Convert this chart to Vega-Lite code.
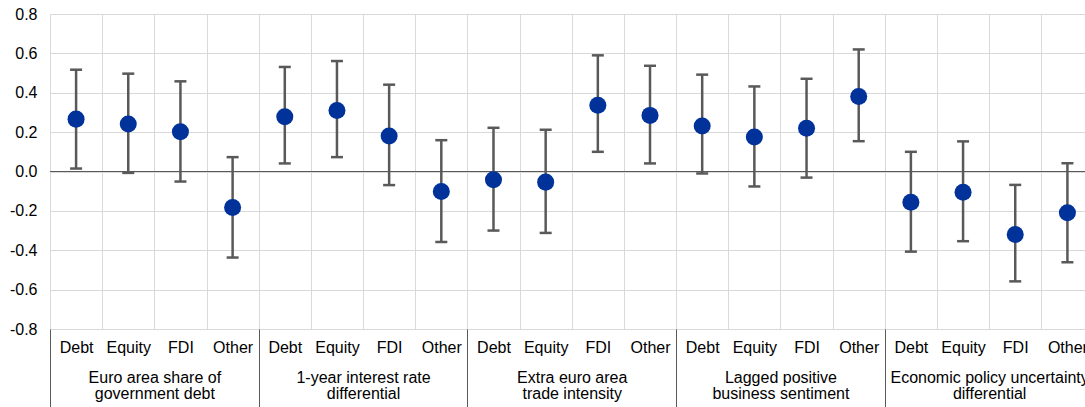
{
  "$schema": "https://vega.github.io/schema/vega-lite/v6.json",
  "width": 1035,
  "height": 315,
  "autosize": {"type": "none"},
  "padding": {"left": 50, "top": 14, "right": 0, "bottom": 78},
  "config": {
    "font": "Liberation Sans",
    "view": {"stroke": null},
    "axis": {"labelFont": "Liberation Sans", "labelFontSize": 16, "labelColor": "#000000"}
  },
  "data": {
    "values": [
      {"id": 1, "group": "Euro area share of government debt", "instrument": "Debt", "est": 0.266, "lo": 0.015, "hi": 0.517},
      {"id": 2, "group": "Euro area share of government debt", "instrument": "Equity", "est": 0.241, "lo": -0.007, "hi": 0.497},
      {"id": 3, "group": "Euro area share of government debt", "instrument": "FDI", "est": 0.202, "lo": -0.051, "hi": 0.458},
      {"id": 4, "group": "Euro area share of government debt", "instrument": "Other", "est": -0.183, "lo": -0.437, "hi": 0.073},
      {"id": 5, "group": "1-year interest rate differential", "instrument": "Debt", "est": 0.278, "lo": 0.041, "hi": 0.531},
      {"id": 6, "group": "1-year interest rate differential", "instrument": "Equity", "est": 0.31, "lo": 0.073, "hi": 0.561},
      {"id": 7, "group": "1-year interest rate differential", "instrument": "FDI", "est": 0.18, "lo": -0.069, "hi": 0.441},
      {"id": 8, "group": "1-year interest rate differential", "instrument": "Other", "est": -0.102, "lo": -0.358, "hi": 0.159},
      {"id": 9, "group": "Extra euro area trade intensity", "instrument": "Debt", "est": -0.042, "lo": -0.3, "hi": 0.222},
      {"id": 10, "group": "Extra euro area trade intensity", "instrument": "Equity", "est": -0.054, "lo": -0.312, "hi": 0.212},
      {"id": 11, "group": "Extra euro area trade intensity", "instrument": "FDI", "est": 0.337, "lo": 0.1, "hi": 0.59},
      {"id": 12, "group": "Extra euro area trade intensity", "instrument": "Other", "est": 0.285, "lo": 0.041, "hi": 0.537},
      {"id": 13, "group": "Lagged positive business sentiment", "instrument": "Debt", "est": 0.231, "lo": -0.01, "hi": 0.492},
      {"id": 14, "group": "Lagged positive business sentiment", "instrument": "Equity", "est": 0.175, "lo": -0.076, "hi": 0.432},
      {"id": 15, "group": "Lagged positive business sentiment", "instrument": "FDI", "est": 0.22, "lo": -0.031, "hi": 0.471},
      {"id": 16, "group": "Lagged positive business sentiment", "instrument": "Other", "est": 0.381, "lo": 0.154, "hi": 0.62},
      {"id": 17, "group": "Economic policy uncertainty differential", "instrument": "Debt", "est": -0.156, "lo": -0.407, "hi": 0.1},
      {"id": 18, "group": "Economic policy uncertainty differential", "instrument": "Equity", "est": -0.105, "lo": -0.354, "hi": 0.153},
      {"id": 19, "group": "Economic policy uncertainty differential", "instrument": "FDI", "est": -0.32, "lo": -0.558, "hi": -0.068},
      {"id": 20, "group": "Economic policy uncertainty differential", "instrument": "Other", "est": -0.21, "lo": -0.461, "hi": 0.042}
    ]
  },
  "layer": [
    {
      "mark": {"type": "point", "opacity": 0},
      "encoding": {
        "x": {
          "field": "group", "type": "nominal", "sort": null,
          "scale": {"range": [0, 1043.5], "paddingInner": 0, "paddingOuter": 0},
          "axis": {
            "orient": "bottom", "title": null, "grid": false, "domain": false,
            "ticks": true, "tickBand": "extent", "tickSize": 78, "tickColor": "#595959", "tickWidth": 1,
            "labelPadding": -38, "labelAngle": 0, "labelLineHeight": 16, "labelLimit": 0, "labelBaseline": "top",
            "labelExpr": "!isDefined(datum.value) ? '' : datum.value == 'Euro area share of government debt' ? ['Euro area share of', 'government debt'] : datum.value == '1-year interest rate differential' ? ['1-year interest rate', 'differential'] : datum.value == 'Extra euro area trade intensity' ? ['Extra euro area', 'trade intensity'] : datum.value == 'Lagged positive business sentiment' ? ['Lagged positive', 'business sentiment'] : datum.value == 'Economic policy uncertainty differential' ? ['Economic policy uncertainty', 'differential'] : ''"
          }
        },
        "y": {
          "field": "est", "type": "quantitative", "title": null,
          "scale": {"domain": [-0.8, 0.8], "nice": false, "zero": false},
          "axis": {
            "values": [-0.8, -0.6, -0.4, -0.2, 0, 0.2, 0.4, 0.6, 0.8],
            "labelExpr": "replace(format(datum.value, '.1f'), '\u2212', '-')",
            "labelOverlap": false,
            "grid": true, "gridColor": "#d9d9d9", "gridWidth": 1,
            "domain": false, "ticks": false, "labelPadding": 13, "title": null
          }
        }
      }
    },
    {
      "encoding": {
        "x": {
          "field": "id", "type": "ordinal",
          "scale": {"range": [0, 1043.5], "paddingInner": 0, "paddingOuter": 0},
          "axis": {
            "orient": "bottom", "title": null, "grid": true, "gridColor": "#d9d9d9", "gridWidth": 1,
            "tickBand": "extent", "ticks": false, "domain": false, "labelPadding": 10, "labelAngle": 0,
            "labelExpr": "!isDefined(datum.value) ? '' : ['Debt','Equity','FDI','Other'][(datum.value - 1) % 4]"
          }
        }
      },
      "layer": [
        {
          "mark": {"type": "rule", "color": "#595959", "strokeWidth": 1},
          "encoding": {
            "x": null,
            "y": {
              "datum": 0, "type": "quantitative", "title": null,
              "axis": {
                "values": [-0.8, -0.6, -0.4, -0.2, 0, 0.2, 0.4, 0.6, 0.8],
                "labelExpr": "replace(format(datum.value, '.1f'), '\u2212', '-')",
                "labelOverlap": false,
                "grid": true, "gridColor": "#d9d9d9", "gridWidth": 1,
                "domain": false, "ticks": false, "labelPadding": 13, "title": null
              }
            }
          }
        },
        {
          "mark": {"type": "rule", "color": "#595959", "strokeWidth": 2.5},
          "encoding": {
            "y": {
              "field": "lo", "type": "quantitative", "title": null,
              "axis": {
                "values": [-0.8, -0.6, -0.4, -0.2, 0, 0.2, 0.4, 0.6, 0.8],
                "labelExpr": "replace(format(datum.value, '.1f'), '\u2212', '-')",
                "labelOverlap": false,
                "grid": true, "gridColor": "#d9d9d9", "gridWidth": 1,
                "domain": false, "ticks": false, "labelPadding": 13, "title": null
              }
            },
            "y2": {"field": "hi"}
          }
        },
        {
          "mark": {"type": "tick", "color": "#595959", "thickness": 2.5, "size": 12, "opacity": 1},
          "encoding": {
            "y": {
              "field": "lo", "type": "quantitative", "title": null,
              "axis": {
                "values": [-0.8, -0.6, -0.4, -0.2, 0, 0.2, 0.4, 0.6, 0.8],
                "labelExpr": "replace(format(datum.value, '.1f'), '\u2212', '-')",
                "labelOverlap": false,
                "grid": true, "gridColor": "#d9d9d9", "gridWidth": 1,
                "domain": false, "ticks": false, "labelPadding": 13, "title": null
              }
            }
          }
        },
        {
          "mark": {"type": "tick", "color": "#595959", "thickness": 2.5, "size": 12, "opacity": 1},
          "encoding": {
            "y": {
              "field": "hi", "type": "quantitative", "title": null,
              "axis": {
                "values": [-0.8, -0.6, -0.4, -0.2, 0, 0.2, 0.4, 0.6, 0.8],
                "labelExpr": "replace(format(datum.value, '.1f'), '\u2212', '-')",
                "labelOverlap": false,
                "grid": true, "gridColor": "#d9d9d9", "gridWidth": 1,
                "domain": false, "ticks": false, "labelPadding": 13, "title": null
              }
            }
          }
        },
        {
          "mark": {"type": "point", "filled": true, "size": 290, "color": "#003299", "opacity": 1},
          "encoding": {
            "y": {
              "field": "est", "type": "quantitative", "title": null,
              "axis": {
                "values": [-0.8, -0.6, -0.4, -0.2, 0, 0.2, 0.4, 0.6, 0.8],
                "labelExpr": "replace(format(datum.value, '.1f'), '\u2212', '-')",
                "labelOverlap": false,
                "grid": true, "gridColor": "#d9d9d9", "gridWidth": 1,
                "domain": false, "ticks": false, "labelPadding": 13, "title": null
              }
            }
          }
        }
      ]
    }
  ],
  "resolve": {"scale": {"x": "independent"}, "axis": {"x": "independent"}}
}
